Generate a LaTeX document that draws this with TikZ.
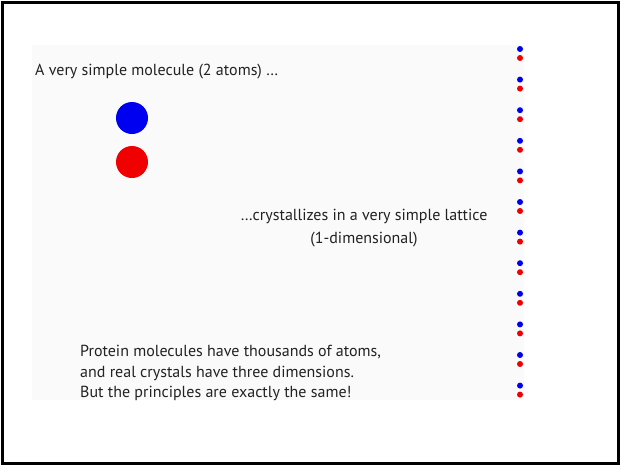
\documentclass[tikz,border=0pt]{standalone}
\usepackage{fontspec}
\setmainfont{PT Sans}
\definecolor{txt}{HTML}{222222}
\definecolor{atomblue}{HTML}{0000F0}
\definecolor{atomred}{HTML}{F00000}
\definecolor{panel}{HTML}{FAFAFA}
\begin{document}
\begin{tikzpicture}[x=1pt,y=-1pt,
  label/.style={text=txt,font=\fontsize{16}{20}\selectfont,inner sep=0pt},
  bigatom/.style={circle,minimum size=32pt,inner sep=0pt},
  dot/.style={circle,minimum size=6pt,inner sep=0pt}]
\useasboundingbox (0,0) rectangle (621,466);
\fill[white] (0,0) rectangle (621,466);
\draw[line width=3pt] (2.5,2.5) rectangle (618.5,463.5);
\fill[panel] (32,45) rectangle (524,400);
\node[label,anchor=base west] (t1) at (35,75.7) {A very simple molecule (2 atoms) …};
\node[bigatom,fill=atomblue] (b) at (132,118) {};
\node[bigatom,fill=atomred] (r) at (132,162) {};
\node[label,anchor=base] (t2a) at (364,220.7) {…crystallizes in a very simple lattice};
\node[label,anchor=base] (t2b) at (364,243.5) {(1-dimensional)};
\node[label,anchor=base west] (t3a) at (80,356) {Protein molecules have thousands of atoms,};
\node[label,anchor=base west] (t3b) at (80,377) {and real crystals have three dimensions.};
\node[label,anchor=base west] (t3c) at (80,397.5) {But the principles are exactly the same!};
\foreach \i in {0,...,11}{
  \node[dot,fill=atomblue] (db\i) at (520,{49+30.6*\i}) {};
  \node[dot,fill=atomred] (dr\i) at (520,{58+30.6*\i}) {};
}
\end{tikzpicture}
\end{document}
